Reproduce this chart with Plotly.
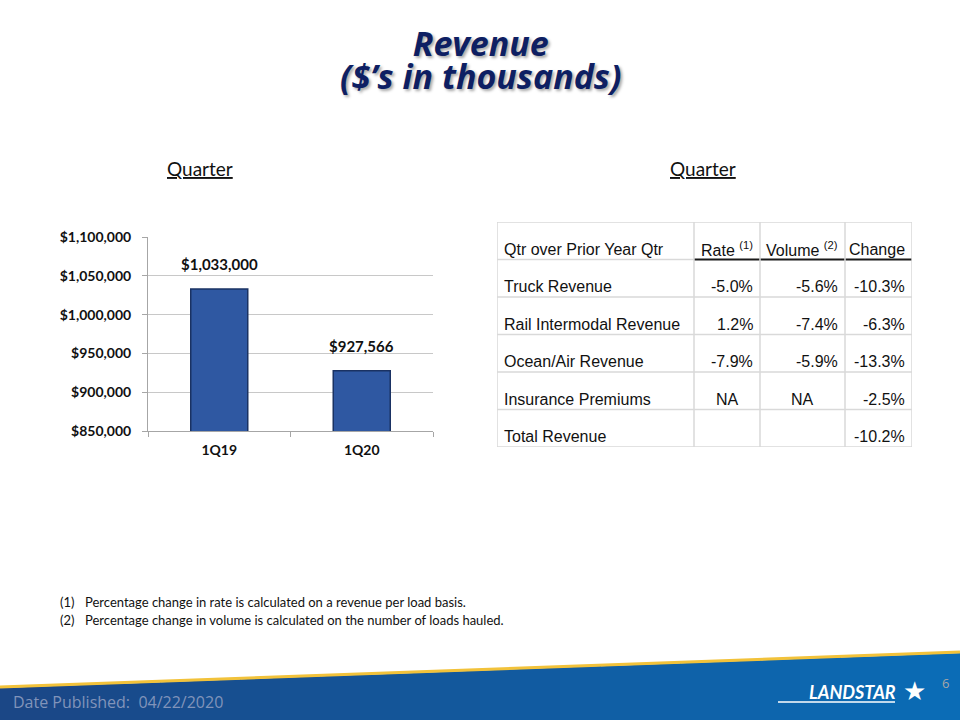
import plotly.graph_objects as go

# ---------------- data ----------------
quarters = ["1Q19", "1Q20"]
revenue = [1033000, 927566]
revenue_labels = ["$1,033,000", "$927,566"]
y_ticks = [850000, 900000, 950000, 1000000, 1050000, 1100000]
y_tick_text = ["$" + f"{v:,}" for v in y_ticks]

table_header = ["Qtr over Prior Year Qtr", "Rate <sup>(1)</sup>", "Volume <sup>(2)</sup>", "Change"]
segments = ["Truck Revenue", "Rail Intermodal Revenue", "Ocean/Air Revenue", "Insurance Premiums", "Total Revenue"]
rate = ["-5.0%", "1.2%", "-7.9%", "NA", ""]
volume = ["-5.6%", "-7.4%", "-5.9%", "NA", ""]
change = ["-10.3%", "-6.3%", "-13.3%", "-2.5%", "-10.2%"]

footnotes = [
    ("(1)", "Percentage change in rate is calculated on a revenue per load basis."),
    ("(2)", "Percentage change in volume is calculated on the number of loads hauled."),
]

# ---------------- layout constants ----------------
W, H = 960, 720
def px(x): return x / W
def py(y): return 1 - y / H

col_widths = [197, 66, 85, 67]          # table column widths (px)
TBL_L, TBL_T, TBL_B = 497, 222, 447
TFONT = dict(family="Liberation Sans", size=16, color="#111111")

fig = go.Figure()

# ---------------- bar chart ----------------
fig.add_trace(go.Bar(
    x=quarters, y=revenue, width=0.4,
    marker=dict(color="#2F58A2", line=dict(color="#1A3263", width=1.5)),
    hoverinfo="skip", showlegend=False,
))
anns = []
for q, v, lab in zip(quarters, revenue, revenue_labels):
    anns.append(dict(x=q, y=v, xref="x", yref="y", text=lab, showarrow=False,
                     xanchor="center", yanchor="middle", yshift=25,
                     font=dict(family="Lato", size=15, color="#111111", weight="bold")))

fig.update_layout(
    xaxis=dict(domain=[px(148), px(433)], range=[-0.5, 1.5], showline=True, linecolor="#A6A6A6",
               ticks="outside", tickson="boundaries", ticklen=5, tickcolor="#A6A6A6", ticklabelstandoff=6,
               tickfont=dict(family="Lato", size=14, color="#111111", weight="bold"), showgrid=False,
               fixedrange=True),
    yaxis=dict(domain=[py(431), py(237)], range=[850000, 1100000], tickvals=y_ticks, ticktext=y_tick_text,
               showline=True, linecolor="#A6A6A6", ticks="outside", ticklen=5, tickcolor="#A6A6A6",
               ticklabelstandoff=8,
               gridcolor="#C8C8C8", gridwidth=1, zeroline=False, fixedrange=True,
               tickfont=dict(family="Lato", size=14, color="#111111", weight="bold")),
    # table coordinate system: x in px-units across the table, y in rows (0 = top)
    xaxis2=dict(domain=[px(TBL_L), px(TBL_L + sum(col_widths))], range=[0, sum(col_widths)],
                visible=False, anchor="y2", fixedrange=True),
    yaxis2=dict(domain=[py(TBL_B), py(TBL_T)], range=[6, 0], visible=False, anchor="x2", fixedrange=True),
)

# ---------------- table (grid + text on x2/y2) ----------------
edges = [0]
for w in col_widths:
    edges.append(edges[-1] + w)
n_rows = len(segments) + 1
shapes = []
GRID = dict(color="#D9D9D9", width=1.5)
for r in range(n_rows + 1):
    if r == 1:
        shapes.append(dict(type="line", xref="x2", yref="y2", x0=edges[0], x1=edges[1], y0=r, y1=r, line=GRID))
        shapes.append(dict(type="line", xref="x2", yref="y2", x0=edges[1], x1=edges[-1], y0=r, y1=r,
                           line=dict(color="#1A1A1A", width=2)))
    else:
        shapes.append(dict(type="line", xref="x2", yref="y2", x0=edges[0], x1=edges[-1], y0=r, y1=r, line=GRID))
for e in edges:
    shapes.append(dict(type="line", xref="x2", yref="y2", x0=e, x1=e, y0=0, y1=n_rows, line=GRID))

columns = [segments, rate, volume, change]
rows = [table_header] + [[col[i] for col in columns] for i in range(len(segments))]
for r, row in enumerate(rows):
    for c, val in enumerate(row):
        if val == "":
            continue
        if c == 0:
            xx, xa = edges[c] + 5, "left"
        elif val == "NA":
            xx, xa = (edges[c] + edges[c + 1]) / 2, "center"
        else:
            xx, xa = edges[c + 1] - 5, "right"
        anns.append(dict(text=val, x=xx, y=r + 0.73, xref="x2", yref="y2", xanchor=xa, yanchor="middle",
                         showarrow=False, font=TFONT))

# ---------------- footer band ----------------
n = 24
c0 = (0x1B, 0x47, 0x86)
c1 = (0x0B, 0x6C, 0xB6)
for i in range(n):
    xa_, xb_ = W * i / n, W * (i + 1) / n + 1
    ya, yb = 688 - 35 * xa_ / W, 688 - 35 * xb_ / W
    t = i / (n - 1)
    col = "rgb(%d,%d,%d)" % tuple(int(c0[k] + (c1[k] - c0[k]) * t) for k in range(3))
    shapes.append(dict(type="path", xref="paper", yref="paper",
                       path=f"M {px(xa_)} {py(ya)} L {px(xb_)} {py(yb)} L {px(xb_)} 0 L {px(xa_)} 0 Z",
                       fillcolor=col, line=dict(width=0), layer="below"))
shapes.append(dict(type="line", xref="paper", yref="paper", x0=0, y0=py(687), x1=1, y1=py(652),
                   line=dict(color="#F2C23A", width=3)))
shapes.append(dict(type="line", xref="paper", yref="paper", x0=px(778), x1=px(895), y0=py(702), y1=py(702),
                   line=dict(color="white", width=1.5)))

# ---------------- texts ----------------
# title: base size sets the (tight) line spacing, spans set the glyph size
title_txt = ('<span style="font-size:34px">Revenue</span><br>'
             '<span style="font-size:34px">($’s in thousands)</span>')
anns.append(dict(text=title_txt, x=0.5, y=py(59), xref="paper", yref="paper",
                 xanchor="center", yanchor="middle", showarrow=False,
                 font=dict(family="Open Sans", size=25, color="#0E1F63", weight="bold", style="italic",
                           shadow="2px 2px 3px rgba(0,0,0,0.35)")))
for cx in (200, 703):
    anns.append(dict(text="<u>Quarter</u>", x=px(cx), y=py(168), xref="paper", yref="paper",
                     xanchor="center", yanchor="middle", showarrow=False,
                     font=dict(family="Lato", size=19, color="#111111")))
for i, (mark, txt) in enumerate(footnotes):
    yy = py(602 + 18 * i)
    anns.append(dict(text=mark, x=px(58), y=yy, xref="paper", yref="paper", xanchor="left", yanchor="middle",
                     showarrow=False, font=dict(family="Lato", size=13, color="#111111")))
    anns.append(dict(text=txt, x=px(83), y=yy, xref="paper", yref="paper", xanchor="left", yanchor="middle",
                     showarrow=False, font=dict(family="Lato", size=13, color="#111111")))
anns.append(dict(text="Date Published:  04/22/2020", x=px(11), y=py(702), xref="paper", yref="paper",
                 xanchor="left", yanchor="middle", showarrow=False,
                 font=dict(family="Open Sans", size=16, color="#8194BA")))
anns.append(dict(text="LANDSTAR", x=px(898), y=py(692), xref="paper", yref="paper",
                 xanchor="right", yanchor="middle", showarrow=False,
                 font=dict(family="Lato", size=18, color="white", weight="bold", style="italic")))
anns.append(dict(text="★", x=px(914), y=py(691), xref="paper", yref="paper",
                 xanchor="center", yanchor="middle", showarrow=False,
                 font=dict(family="DejaVu Sans", size=26, color="white")))
anns.append(dict(text="6", x=px(945), y=py(683), xref="paper", yref="paper",
                 xanchor="center", yanchor="middle", showarrow=False,
                 font=dict(family="Open Sans", size=13, color="#A6A6A6")))

fig.update_layout(width=W, height=H, margin=dict(l=0, r=0, t=0, b=0, autoexpand=False),
                  paper_bgcolor="white", plot_bgcolor="white", shapes=shapes, annotations=anns,
                  showlegend=False)

fig.write_html("out.html")
